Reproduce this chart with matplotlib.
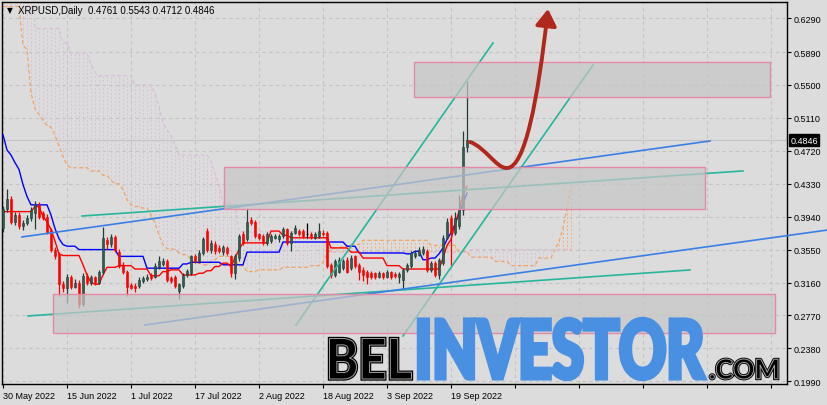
import numpy as np
import pandas as pd
import matplotlib
matplotlib.use('Agg')
from matplotlib import pyplot as plt
from matplotlib.patches import Rectangle, PathPatch, FancyArrowPatch
from matplotlib.path import Path
from matplotlib.textpath import TextPath
from matplotlib.font_manager import FontProperties
from matplotlib.transforms import Affine2D

plt.rcParams['font.family'] = ['Liberation Sans', 'DejaVu Sans']

symbol = 'XRPUSD,Daily'
first_day = pd.Timestamp('2022-05-30')

# daily candles from 30 May 2022
opens = [0.381, 0.403, 0.415, 0.388, 0.396, 0.383, 0.387, 0.393, 0.398, 0.408,
         0.398, 0.394, 0.378, 0.355, 0.350, 0.314, 0.310, 0.322, 0.311, 0.316,
         0.290, 0.324, 0.316, 0.322, 0.316, 0.328, 0.366, 0.362, 0.370, 0.352,
         0.337, 0.328, 0.313, 0.312, 0.312, 0.318, 0.320, 0.324, 0.323, 0.334,
         0.338, 0.342, 0.321, 0.323, 0.306, 0.312, 0.325, 0.327, 0.347, 0.341,
         0.351, 0.377, 0.354, 0.362, 0.357, 0.352, 0.357, 0.347, 0.327, 0.345,
         0.373, 0.367, 0.390, 0.388, 0.373, 0.371, 0.363, 0.365, 0.369, 0.367,
         0.371, 0.379, 0.363, 0.375, 0.377, 0.377, 0.373, 0.373, 0.369, 0.371,
         0.375, 0.375, 0.337, 0.325, 0.329, 0.333, 0.343, 0.333, 0.347, 0.337,
         0.331, 0.329, 0.327, 0.327, 0.323, 0.327, 0.323, 0.328, 0.326, 0.322,
         0.319, 0.331, 0.335, 0.347, 0.349, 0.351, 0.353, 0.331, 0.339, 0.325,
         0.339, 0.369, 0.392, 0.375, 0.383, 0.402, 0.4761]
highs = [0.407, 0.427, 0.419, 0.399, 0.400, 0.390, 0.396, 0.406, 0.412, 0.411,
         0.401, 0.397, 0.381, 0.358, 0.352, 0.318, 0.326, 0.325, 0.320, 0.319,
         0.327, 0.327, 0.325, 0.324, 0.331, 0.382, 0.370, 0.373, 0.372, 0.356,
         0.340, 0.331, 0.316, 0.315, 0.322, 0.324, 0.326, 0.327, 0.339, 0.347,
         0.345, 0.344, 0.324, 0.325, 0.316, 0.327, 0.332, 0.349, 0.350, 0.354,
         0.370, 0.381, 0.366, 0.365, 0.360, 0.360, 0.359, 0.349, 0.350, 0.374,
         0.377, 0.404, 0.394, 0.390, 0.375, 0.373, 0.376, 0.373, 0.374, 0.373,
         0.382, 0.381, 0.377, 0.384, 0.380, 0.379, 0.386, 0.376, 0.376, 0.386,
         0.378, 0.377, 0.339, 0.344, 0.346, 0.344, 0.346, 0.349, 0.349, 0.339,
         0.334, 0.331, 0.330, 0.329, 0.330, 0.329, 0.331, 0.330, 0.328, 0.328,
         0.333, 0.339, 0.353, 0.354, 0.358, 0.359, 0.356, 0.341, 0.341, 0.345,
         0.372, 0.392, 0.396, 0.400, 0.420, 0.495, 0.5543]
lows = [0.376, 0.399, 0.385, 0.384, 0.380, 0.378, 0.384, 0.389, 0.379, 0.391,
        0.390, 0.373, 0.352, 0.344, 0.300, 0.305, 0.292, 0.308, 0.309, 0.286,
        0.288, 0.313, 0.313, 0.313, 0.314, 0.326, 0.356, 0.358, 0.352, 0.333,
        0.326, 0.300, 0.308, 0.305, 0.310, 0.316, 0.318, 0.319, 0.321, 0.332,
        0.336, 0.317, 0.315, 0.309, 0.296, 0.310, 0.323, 0.325, 0.339, 0.339,
        0.349, 0.352, 0.351, 0.350, 0.351, 0.349, 0.349, 0.322, 0.320, 0.342,
        0.361, 0.365, 0.384, 0.369, 0.366, 0.360, 0.361, 0.363, 0.367, 0.364,
        0.369, 0.361, 0.353, 0.373, 0.371, 0.369, 0.369, 0.368, 0.367, 0.369,
        0.371, 0.333, 0.321, 0.323, 0.327, 0.331, 0.327, 0.331, 0.333, 0.319,
        0.318, 0.314, 0.320, 0.320, 0.321, 0.320, 0.321, 0.320, 0.321, 0.316,
        0.308, 0.329, 0.333, 0.345, 0.347, 0.349, 0.329, 0.328, 0.322, 0.320,
        0.337, 0.367, 0.335, 0.372, 0.380, 0.396, 0.4712]
closes = [0.403, 0.415, 0.388, 0.396, 0.383, 0.387, 0.393, 0.402, 0.408, 0.394,
          0.393, 0.376, 0.355, 0.347, 0.314, 0.310, 0.322, 0.311, 0.316, 0.290,
          0.324, 0.316, 0.322, 0.316, 0.328, 0.369, 0.362, 0.370, 0.354, 0.336,
          0.328, 0.311, 0.310, 0.309, 0.3195, 0.321, 0.323, 0.321, 0.336, 0.342,
          0.342, 0.3195, 0.318, 0.312, 0.314, 0.325, 0.330, 0.347, 0.341, 0.351,
          0.367, 0.354, 0.363, 0.353, 0.353, 0.358, 0.351, 0.327, 0.347, 0.371,
          0.363, 0.388, 0.386, 0.371, 0.369, 0.363, 0.373, 0.371, 0.371, 0.371,
          0.379, 0.363, 0.375, 0.381, 0.373, 0.371, 0.373, 0.371, 0.373, 0.377,
          0.373, 0.335, 0.325, 0.341, 0.343, 0.341, 0.329, 0.345, 0.335, 0.329,
          0.325, 0.323, 0.323, 0.323, 0.327, 0.323, 0.329, 0.323, 0.324, 0.326,
          0.331, 0.337, 0.351, 0.351, 0.355, 0.356, 0.331, 0.339, 0.325, 0.343,
          0.369, 0.388, 0.375, 0.392, 0.402, 0.476, 0.4846]

# ichimoku lines as (value, number of bars)
tenkan_runs = [(0.400, 8), (0.406, 2), (0.394, 1), (0.388, 1), (0.379, 1), (0.365, 1),
               (0.350, 1), (0.348, 5), (0.337, 1), (0.325, 1), (0.316, 1), (0.314, 2),
               (0.325, 1), (0.334, 3), (0.336, 4), (0.332, 4), (0.324, 3), (0.329, 2),
               (0.331, 3), (0.325, 4), (0.327, 2), (0.330, 2), (0.335, 2), (0.339, 2),
               (0.335, 1), (0.345, 1), (0.355, 1), (0.363, 7), (0.377, 3), (0.372, 2),
               (0.369, 10), (0.357, 5), (0.352, 3), (0.345, 6), (0.336, 4), (0.332, 10),
               (0.345, 1), (0.360, 1), (0.367, 1), (0.385, 1), (0.400, 1), (0.420, 1),
               (0.430, 1)]
kijun_runs = [(0.491, 1), (0.473, 1), (0.467, 1), (0.458, 1), (0.450, 1), (0.432, 1),
              (0.418, 1), (0.408, 5), (0.396, 1), (0.380, 1), (0.368, 1), (0.361, 1),
              (0.359, 3), (0.355, 10), (0.347, 7), (0.333, 9), (0.338, 2), (0.340, 8),
              (0.337, 6), (0.352, 9), (0.364, 16), (0.359, 3), (0.351, 12), (0.350, 2),
              (0.353, 2), (0.343, 2), (0.345, 2), (0.350, 1), (0.357, 1), (0.367, 1),
              (0.375, 1), (0.385, 1), (0.398, 1), (0.410, 1), (0.422, 1)]
span_a_runs = [(0.643, 5), (0.597, 1), (0.592, 1), (0.540, 1), (0.522, 1), (0.515, 1),
               (0.508, 1), (0.502, 1), (0.500, 1), (0.490, 1), (0.478, 1), (0.465, 1),
               (0.455, 1), (0.452, 5), (0.448, 3), (0.443, 2), (0.437, 1), (0.433, 2),
               (0.426, 1), (0.414, 1), (0.408, 1), (0.406, 2), (0.404, 2), (0.396, 1),
               (0.386, 1), (0.372, 1), (0.361, 1), (0.356, 2), (0.355, 1), (0.351, 1),
               (0.349, 2), (0.343, 1), (0.339, 2), (0.337, 2), (0.341, 1), (0.343, 1),
               (0.347, 4), (0.343, 1), (0.336, 2), (0.329, 3), (0.331, 6), (0.334, 7),
               (0.336, 3), (0.340, 1), (0.350, 1), (0.355, 1), (0.357, 2), (0.359, 2),
               (0.361, 3), (0.366, 17), (0.360, 7), (0.353, 3), (0.346, 6), (0.341, 4),
               (0.336, 7), (0.345, 4), (0.355, 1), (0.365, 1), (0.380, 1), (0.405, 1),
               (0.430, 1)]
span_b_runs = [(0.700, 8), (0.617, 7), (0.600, 2), (0.588, 5), (0.575, 1), (0.565, 1),
               (0.561, 9), (0.550, 5), (0.540, 1), (0.525, 1), (0.505, 1), (0.497, 1),
               (0.490, 1), (0.480, 1), (0.467, 8), (0.460, 1), (0.445, 1), (0.432, 1),
               (0.410, 4), (0.376, 20), (0.368, 3), (0.352, 35), (0.355, 26)]

price_ticks = [0.6290, 0.5890, 0.5500, 0.5110, 0.4720, 0.4330, 0.3940,
               0.3550, 0.3160, 0.2770, 0.2380, 0.1990]
labelled_dates = ['2022-05-30', '2022-06-15', '2022-07-01', '2022-07-17',
                  '2022-08-02', '2022-08-18', '2022-09-03', '2022-09-19']
future_dates = ['2022-10-05', '2022-10-21', '2022-11-06', '2022-11-22', '2022-12-08']

# hand drawn objects: (day from 30 May, price)
teal_lines = [[(73.25, 0.2657), (122.5, 0.5998)],
              [(100.0, 0.2527), (147.5, 0.5737)],
              [(19.75, 0.3948), (185.0, 0.4482)],
              [(6.25, 0.2764), (171.75, 0.3309)]]
blue_lines = [[(4.75, 0.3700), (176.75, 0.4837)],
              [(35.5, 0.2657), (206.25, 0.3783)]]
zones = [(102.75, 191.75, 0.5358, 0.5773),
         (55.25, 175.5, 0.4031, 0.4529),
         (12.5, 193.0, 0.2562, 0.3024)]
arrow_pts = [(116.75, 0.4825), (120.5, 0.4766), (123.5, 0.4505), (126.0, 0.4517),
             (130.5, 0.4517), (133.75, 0.5334), (136.25, 0.6401)]


def expand(runs):
    return np.repeat([v for v, k in runs], [k for v, k in runs])


o, h, l, c = map(np.array, (opens, highs, lows, closes))
days = np.arange(len(o))
tenkan = expand(tenkan_runs)
kijun = expand(kijun_runs)
span_a = expand(span_a_runs)
span_b = expand(span_b_runs)
cloud_days = np.arange(len(span_a))

bg = '#dcdcdc'
fig = plt.figure(figsize=(8.28, 4.06), dpi=100, facecolor=bg)
ax = fig.add_axes([2.5 / 828, 21 / 406, 784.5 / 828, 382.5 / 406], facecolor=bg)
ax.set_xlim(-0.125, 196)
ax.set_ylim(0.1958, 0.6489)

# cloud
lo = np.minimum(span_a, span_b)
hi = np.maximum(span_a, span_b)
hatch_cols = np.where(span_b > span_a, '#d9c0d9', '#f2b07c')
ax.vlines(cloud_days, lo, hi, colors=hatch_cols, lw=0.7, linestyles=(0, (2, 2)), zorder=1)
ax.plot(cloud_days, span_a, color='#f4a460', lw=0.9, ls=(0, (3, 2)), zorder=2)
ax.plot(cloud_days, span_b, color='#d8bfd8', lw=0.9, ls=(0, (3, 2)), zorder=2)

ax.plot(days, kijun, color='#0000ff', lw=1.0, zorder=3)
ax.plot(days, tenkan, color='#ff0000', lw=1.0, zorder=3)

# candles
bull = '#2f5d50'
body_col = np.where(c > o, bull, np.where(c < o, '#ff0000', '#000000'))
wick_col = np.where(c > o, '#1f3d35', np.where(c < o, '#ff0000', '#000000'))
ax.vlines(days, l, h, colors=wick_col, lw=0.9, zorder=4)
ax.bar(days, np.maximum(np.abs(c - o), 0.0006), bottom=np.minimum(o, c), width=0.72,
       color=body_col, edgecolor=wick_col, linewidth=0.4, zorder=4.1)

ax.axhline(c[-1], color='#c4c4c4', lw=0.8, zorder=0.5)

for pts in teal_lines:
    xs, ys = zip(*pts)
    ax.plot(xs, ys, color='#27b59c', lw=1.2, zorder=5)
for k, pts in enumerate(blue_lines):
    xs, ys = zip(*pts)
    ax.plot(xs, ys, color='#3a7fe6', lw=1.2, zorder=5, clip_on=(k == 0))

for x0, x1, y0, y1 in zones:
    ax.add_patch(Rectangle((x0, y0), x1 - x0, y1 - y0, facecolor='#c6c6c6', alpha=0.72,
                           edgecolor='none', zorder=6))
    ax.add_patch(Rectangle((x0, y0), x1 - x0, y1 - y0, facecolor='none',
                           edgecolor='#e48aa6', lw=1.0, zorder=6.1))

codes = [Path.MOVETO, Path.CURVE4, Path.CURVE4, Path.CURVE4, Path.CURVE4, Path.CURVE4, Path.CURVE4]
ax.add_patch(FancyArrowPatch(path=Path(arrow_pts, codes), arrowstyle='-|>,head_length=0.55,head_width=0.35',
                             mutation_scale=18, color='#b0281c', lw=2.8, shrinkA=0, shrinkB=0,
                             zorder=7))

# axes
grid_dates = pd.to_datetime(labelled_dates + future_dates)
ax.set_xticks((grid_dates - first_day).days)
ax.set_xticklabels([f'{d.day} {d:%b %Y}' for d in pd.to_datetime(labelled_dates)] + [''] * len(future_dates),
                   ha='left')
ax.set_yticks(price_ticks)
ax.set_yticklabels([f'{v:.4f}' for v in price_ticks])
ax.yaxis.tick_right()
ax.tick_params(axis='y', length=3, width=0.8, pad=2, labelsize=6.5, colors='black')
ax.tick_params(axis='x', length=3, width=0.8, pad=2, labelsize=6.5)
ax.grid(True, color='#c3c3c3', lw=0.8, ls=(0, (3, 3)), zorder=0)
ax.set_axisbelow(True)
for sp in ax.spines.values():
    sp.set_color('black')
    sp.set_linewidth(1.0)

ax.text(1.004, c[-1], f'{c[-1]:.4f}', transform=ax.get_yaxis_transform(), va='center', ha='left',
        fontsize=6.5, color='white', clip_on=False, zorder=10,
        bbox=dict(boxstyle='square,pad=0.18', fc='black', ec='black'))

# overlay in pixel units for header and watermark
ov = fig.add_axes([0, 0, 1, 1])
ov.set_xlim(0, 828)
ov.set_ylim(406, 0)
ov.axis('off')
ov.text(6.5, 11, '\u25bc', fontsize=5.5, family='DejaVu Sans', va='center', ha='left')
ov.text(18, 11, f'{symbol}  {o[-1]:.4f} {h[-1]:.4f} {l[-1]:.4f} {c[-1]:.4f}',
        fontsize=7, va='center', ha='left')


def word(text, box, face, edge, lw, inline=None):
    fp = FontProperties(family=['Lato', 'Roboto', 'DejaVu Sans'], weight=900)
    tp = TextPath((0, 0), text, size=10, prop=fp)
    e = tp.get_extents()
    x0, y0, x1, y1 = box
    t = Affine2D().translate(-e.x0, -e.y0).scale((x1 - x0) / e.width, -(y1 - y0) / e.height).translate(x0, y1)
    p = t.transform_path(tp)
    ov.add_patch(PathPatch(p, facecolor=face, edgecolor=edge, lw=lw, joinstyle='miter'))
    if inline:
        ov.add_patch(PathPatch(p, facecolor='none', edgecolor=inline, lw=0.7))


word('BEL', (329.5, 339.5, 411.5, 380), 'black', 'black', 2.4, inline='#a0a0a0')
word('INVESTOR', (419, 320, 704.5, 380), '#4a90e2', '#4a90e2', 3.2)
word('.COM', (710, 360, 778, 380), 'black', 'black', 2.0, inline='#a0a0a0')

fig.savefig('out.png', dpi=100, facecolor=bg)
